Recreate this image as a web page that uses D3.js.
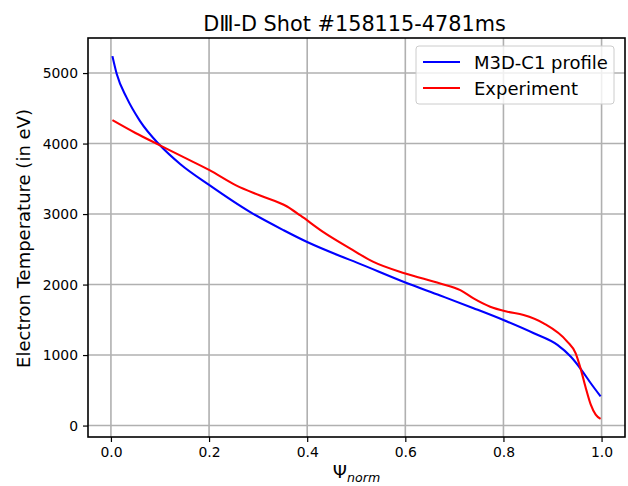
<!DOCTYPE html>
<html>
<head>
<meta charset="utf-8">
<script src="https://cdn.jsdelivr.net/npm/d3@7"></script>
<style>
  body { margin: 0; background: #fff; }
  svg text { font-family: "DejaVu Sans", sans-serif; fill: #000; }
</style>
</head>
<body>
<div id="chart"></div>
<script>
// M3D-C1 profile
var psiModel = [0.003, 0.012, 0.032, 0.059, 0.1, 0.141, 0.2, 0.284, 0.352, 0.4, 0.467, 0.5, 0.6, 0.671, 0.739, 0.8, 0.862, 0.91, 0.937, 0.961, 0.978, 0.998];
var teModel  = [5240, 4982, 4651, 4322, 3975, 3710, 3413, 3027, 2770, 2603, 2405, 2315, 2030, 1845, 1665, 1497, 1309, 1144, 979, 770, 600, 414];

// Experiment
var psiExp = [0.003, 0.05, 0.1, 0.15, 0.2, 0.256, 0.304, 0.359, 0.386, 0.433, 0.488, 0.535, 0.6, 0.671, 0.712, 0.739, 0.773, 0.808, 0.841, 0.882, 0.93, 0.947, 0.957, 0.967, 0.978, 0.988, 0.998];
var teExp  = [4332, 4150, 3975, 3800, 3626, 3404, 3263, 3107, 2980, 2744, 2510, 2321, 2157, 2015, 1921, 1803, 1685, 1615, 1568, 1450, 1191, 1027, 815, 555, 297, 155, 95];

var xTicks = [0, 0.2, 0.4, 0.6, 0.8, 1.0];
var yTicks = [0, 1000, 2000, 3000, 4000, 5000];
var seriesNames = ["M3D-C1 profile", "Experiment"];
var seriesColors = ["#0000ff", "#ff0000"];

var W = 628, H = 486;
var margin = {left: 88, right: 3, top: 38, bottom: 49};

var svg = d3.select("#chart").append("svg")
    .attr("width", W).attr("height", H);

// matplotlib-style 5% margins around data extent
function pad(ext) { var r = ext[1] - ext[0]; return [ext[0] - 0.05 * r, ext[1] + 0.05 * r]; }
var xExt = d3.extent(psiModel.concat(psiExp));
var yExt = d3.extent(teModel.concat(teExp));

var x = d3.scaleLinear().domain(pad(xExt)).range([margin.left, W - margin.right]);
var y = d3.scaleLinear().domain(pad(yExt)).range([H - margin.bottom, margin.top]);

// grid
var g = svg.append("g");
g.selectAll(".gx").data(xTicks).enter().append("line")
    .attr("x1", function(d){ return x(d); }).attr("x2", function(d){ return x(d); })
    .attr("y1", margin.top).attr("y2", H - margin.bottom)
    .attr("stroke", "#b0b0b0").attr("stroke-width", 1.6);
g.selectAll(".gy").data(yTicks).enter().append("line")
    .attr("y1", function(d){ return y(d); }).attr("y2", function(d){ return y(d); })
    .attr("x1", margin.left).attr("x2", W - margin.right)
    .attr("stroke", "#b0b0b0").attr("stroke-width", 1.6);

// lines
var line = d3.line().curve(d3.curveMonotoneX)
    .x(function(d){ return x(d[0]); }).y(function(d){ return y(d[1]); });
var series = [d3.zip(psiModel, teModel), d3.zip(psiExp, teExp)];
svg.selectAll(".series").data(series).enter().append("path")
    .attr("d", line)
    .attr("fill", "none")
    .attr("stroke", function(d, i){ return seriesColors[i]; })
    .attr("stroke-width", 2.1);

// axes
var xAxis = d3.axisBottom(x).tickValues(xTicks).tickFormat(d3.format(".1f")).tickSizeOuter(0).tickSize(5).tickPadding(5);
var yAxis = d3.axisLeft(y).tickValues(yTicks).tickFormat(d3.format("d")).tickSizeOuter(0).tickSize(5).tickPadding(5);
var gx = svg.append("g").attr("transform", "translate(0," + (H - margin.bottom) + ")").call(xAxis);
var gy = svg.append("g").attr("transform", "translate(" + margin.left + ",0)").call(yAxis);
[gx, gy].forEach(function(a){
  a.select(".domain").remove();
  a.selectAll(".tick line").attr("stroke", "#000").attr("stroke-width", 1.2);
  a.selectAll(".tick text").attr("font-size", "13.9px").attr("font-family", "DejaVu Sans");
});

// frame
svg.append("rect")
    .attr("x", margin.left).attr("y", margin.top)
    .attr("width", W - margin.left - margin.right)
    .attr("height", H - margin.top - margin.bottom)
    .attr("fill", "none").attr("stroke", "#000").attr("stroke-width", 1.6);

// title
svg.append("text")
    .attr("x", (margin.left + W - margin.right) / 2 - 2).attr("y", 31)
    .attr("text-anchor", "middle").attr("font-size", "20.8px")
    .text("D\u2162-D Shot #158115-4781ms");

// x label
var xl = svg.append("text")
    .attr("x", (margin.left + W - margin.right) / 2).attr("y", 478)
    .attr("text-anchor", "middle").attr("font-size", "18px");
xl.append("tspan").text("\u03A8");
xl.append("tspan").attr("font-size", "12.6px").attr("font-style", "italic")
    .attr("dy", 4).text("norm");

// y label
svg.append("text")
    .attr("transform", "translate(30," + ((margin.top + H - margin.bottom) / 2 + 1) + ") rotate(-90)")
    .attr("text-anchor", "middle").attr("font-size", "18px")
    .text("Electron Temperature (in eV)");

// legend
var lg = svg.append("g").attr("transform", "translate(416,46)");
lg.append("rect").attr("width", 198).attr("height", 58).attr("rx", 3)
    .attr("fill", "#fff").attr("fill-opacity", 0.8)
    .attr("stroke", "#cccccc").attr("stroke-width", 1);
seriesNames.forEach(function(name, i){
  var yy = 16 + i * 26;
  lg.append("line").attr("x1", 7).attr("x2", 44).attr("y1", yy).attr("y2", yy)
    .attr("stroke", seriesColors[i]).attr("stroke-width", 2.1);
  lg.append("text").attr("x", 58).attr("y", yy + 6.5).attr("font-size", "18px").text(name);
});
</script>
</body>
</html>
